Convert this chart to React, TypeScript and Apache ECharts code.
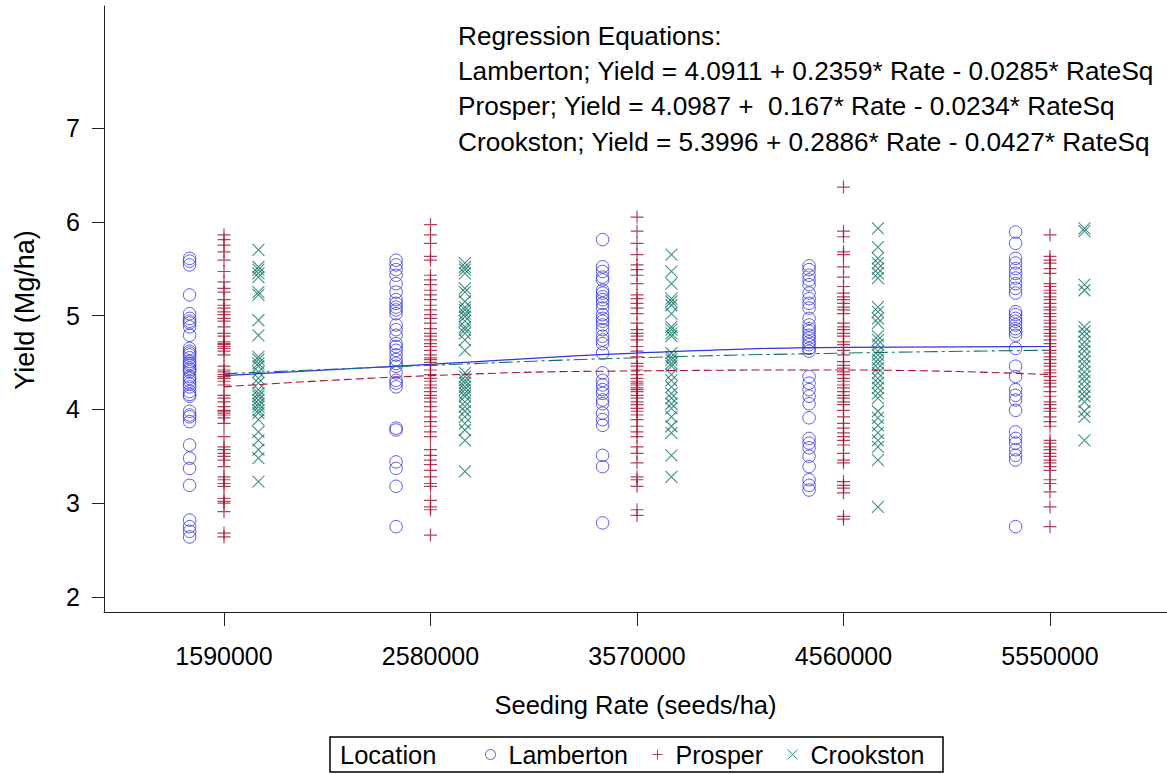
import React, { useEffect, useRef } from "react";
import * as echarts from "echarts";

// Seeding rates (seeds/ha)
const rates = [1590000, 2580000, 3570000, 4560000, 5550000];
const yTicks = [2, 3, 4, 5, 6, 7];

// Plot yields (Mg/ha) by location and seeding rate
const lamberton1590 = [5.61, 5.58, 5.54, 5.22, 5.02, 4.97, 4.94, 4.92, 4.88, 4.79, 4.65, 4.62, 4.60, 4.58, 4.55, 4.51, 4.49, 4.47, 4.44, 4.42, 4.40, 4.35, 4.33, 4.30, 4.27, 4.24, 4.19, 4.16, 4.14, 3.98, 3.94, 3.92, 3.87, 3.62, 3.48, 3.37, 3.19, 2.82, 2.75, 2.70, 2.64];
const lamberton2580 = [5.59, 5.54, 5.49, 5.43, 5.34, 5.25, 5.17, 5.13, 5.09, 5.06, 5.02, 4.90, 4.85, 4.79, 4.70, 4.67, 4.63, 4.58, 4.53, 4.49, 4.46, 4.39, 4.31, 4.28, 4.24, 3.80, 3.78, 3.44, 3.37, 3.18, 2.75];
const lamberton3570 = [5.81, 5.52, 5.47, 5.41, 5.38, 5.27, 5.24, 5.20, 5.17, 5.13, 5.08, 5.01, 4.97, 4.94, 4.90, 4.85, 4.78, 4.74, 4.70, 4.60, 4.39, 4.31, 4.26, 4.21, 4.17, 4.10, 4.06, 3.96, 3.89, 3.83, 3.51, 3.39, 2.79];
const lamberton4560 = [5.53, 5.49, 5.43, 5.38, 5.33, 5.24, 5.18, 5.13, 5.08, 4.97, 4.90, 4.86, 4.83, 4.79, 4.76, 4.72, 4.69, 4.65, 4.62, 4.35, 4.28, 4.21, 4.14, 4.06, 3.91, 3.69, 3.64, 3.59, 3.50, 3.39, 3.25, 3.19, 3.14];
const lamberton5550 = [5.89, 5.77, 5.61, 5.56, 5.50, 5.45, 5.40, 5.34, 5.29, 5.24, 5.04, 5.01, 4.97, 4.94, 4.90, 4.86, 4.83, 4.79, 4.65, 4.46, 4.35, 4.21, 4.15, 4.10, 3.99, 3.76, 3.69, 3.64, 3.57, 3.51, 3.46, 2.75];

const prosper1590 = [5.86, 5.81, 5.75, 5.68, 5.59, 5.47, 5.36, 5.29, 5.25, 5.17, 5.11, 5.08, 5.04, 5.01, 4.97, 4.94, 4.88, 4.81, 4.78, 4.72, 4.70, 4.69, 4.67, 4.65, 4.62, 4.58, 4.46, 4.42, 4.40, 4.37, 4.35, 4.33, 4.30, 4.26, 4.15, 4.12, 4.08, 4.03, 3.99, 3.98, 3.96, 3.94, 3.91, 3.85, 3.71, 3.60, 3.57, 3.53, 3.50, 3.46, 3.39, 3.28, 3.25, 3.21, 3.18, 3.05, 3.02, 3.00, 2.91, 2.68, 2.64];
const prosper2580 = [5.97, 5.86, 5.77, 5.63, 5.59, 5.43, 5.38, 5.33, 5.27, 5.22, 5.17, 5.11, 5.06, 5.01, 4.97, 4.92, 4.86, 4.81, 4.78, 4.74, 4.70, 4.67, 4.63, 4.58, 4.55, 4.53, 4.50, 4.47, 4.42, 4.37, 4.33, 4.30, 4.26, 4.23, 4.19, 4.15, 4.12, 4.08, 4.03, 3.98, 3.92, 3.87, 3.82, 3.76, 3.71, 3.57, 3.51, 3.46, 3.41, 3.35, 3.28, 3.21, 3.18, 3.03, 2.96, 2.93, 2.66];
const prosper3570 = [6.05, 5.90, 5.77, 5.65, 5.54, 5.49, 5.43, 5.34, 5.22, 5.18, 5.13, 5.08, 5.02, 4.92, 4.85, 4.81, 4.78, 4.74, 4.67, 4.62, 4.56, 4.49, 4.46, 4.42, 4.37, 4.33, 4.30, 4.28, 4.26, 4.23, 4.21, 4.19, 4.15, 4.12, 4.08, 4.05, 4.01, 3.98, 3.94, 3.89, 3.82, 3.76, 3.71, 3.60, 3.53, 3.43, 3.28, 3.25, 3.18, 2.93, 2.87];
const prosper4560 = [6.37, 5.90, 5.84, 5.68, 5.65, 5.52, 5.41, 5.31, 5.24, 5.20, 5.17, 5.13, 5.09, 5.06, 5.02, 4.92, 4.88, 4.85, 4.81, 4.78, 4.72, 4.69, 4.63, 4.58, 4.51, 4.47, 4.44, 4.40, 4.37, 4.33, 4.30, 4.26, 4.23, 4.19, 4.15, 4.12, 4.08, 4.05, 3.99, 3.92, 3.85, 3.80, 3.75, 3.71, 3.67, 3.62, 3.53, 3.46, 3.43, 3.23, 3.19, 3.16, 3.11, 2.86, 2.83];
const prosper5550 = [5.86, 5.63, 5.59, 5.56, 5.50, 5.45, 5.34, 5.31, 5.27, 5.24, 5.20, 5.17, 5.13, 5.09, 5.06, 5.02, 4.99, 4.95, 4.92, 4.88, 4.85, 4.81, 4.78, 4.74, 4.70, 4.67, 4.63, 4.60, 4.56, 4.53, 4.49, 4.46, 4.42, 4.39, 4.35, 4.31, 4.28, 4.24, 4.19, 4.14, 4.08, 4.05, 4.01, 3.98, 3.92, 3.87, 3.82, 3.67, 3.64, 3.60, 3.57, 3.53, 3.50, 3.46, 3.43, 3.39, 3.35, 3.25, 3.21, 3.12, 2.96, 2.75];

const crookston1590 = [5.70, 5.52, 5.49, 5.45, 5.41, 5.25, 5.22, 4.95, 4.79, 4.56, 4.53, 4.49, 4.46, 4.40, 4.33, 4.28, 4.21, 4.17, 4.14, 4.10, 4.06, 4.03, 3.99, 3.96, 3.89, 3.76, 3.67, 3.57, 3.48, 3.23];
const crookston2580 = [5.56, 5.52, 5.49, 5.45, 5.29, 5.25, 5.15, 5.09, 5.06, 5.02, 4.99, 4.94, 4.88, 4.85, 4.81, 4.74, 4.63, 4.39, 4.35, 4.31, 4.28, 4.24, 4.21, 4.17, 4.14, 4.08, 4.03, 3.98, 3.92, 3.85, 3.78, 3.67, 3.34];
const crookston3570 = [5.65, 5.47, 5.34, 5.18, 5.15, 5.11, 5.02, 4.88, 4.85, 4.81, 4.78, 4.60, 4.56, 4.53, 4.49, 4.46, 4.37, 4.31, 4.24, 4.17, 4.12, 4.06, 4.01, 3.92, 3.82, 3.75, 3.51, 3.28];
const crookston4560 = [5.93, 5.73, 5.61, 5.56, 5.50, 5.45, 5.40, 5.09, 5.04, 4.97, 4.92, 4.78, 4.74, 4.69, 4.62, 4.58, 4.53, 4.49, 4.44, 4.39, 4.33, 4.28, 4.23, 4.17, 4.12, 3.98, 3.91, 3.83, 3.75, 3.67, 3.60, 3.46, 2.96];
const crookston5550 = [5.93, 5.90, 5.33, 5.27, 4.88, 4.83, 4.78, 4.72, 4.67, 4.62, 4.56, 4.51, 4.46, 4.40, 4.35, 4.30, 4.24, 4.19, 4.14, 4.08, 3.98, 3.92, 3.67];

// Fitted quadratic regression values at each seeding rate
const lambertonFit = [4.36, 4.48, 4.60, 4.66, 4.67];
const prosperFit = [4.24, 4.36, 4.41, 4.42, 4.37];
const crookstonFit = [4.38, 4.47, 4.55, 4.60, 4.63];

const equationLines = [
  "Regression Equations:",
  "Lamberton; Yield = 4.0911 + 0.2359* Rate - 0.0285* RateSq",
  "Prosper; Yield = 4.0987 +  0.167* Rate - 0.0234* RateSq",
  "Crookston; Yield = 5.3996 + 0.2886* Rate - 0.0427* RateSq",
];

const BLUE = "#3434e4";
const RED = "#a3122f";
const TEAL = "#0f7566";
const AXIS = "#222";
const FONT = "'Liberation Sans', Arial, sans-serif";

const PLUS = "path://M0,6L12,6M6,0L6,12";
const CROSS = "path://M0,0L12,12M12,0L0,12";

// side-by-side dodge of the three locations around each rate
const DODGE = 165000;

function points(groups: number[][], offset: number): number[][] {
  const out: number[][] = [];
  groups.forEach((vals, i) => {
    vals.forEach((v) => out.push([rates[i] + offset, v]));
  });
  return out;
}

function fitLine(vals: number[]): number[][] {
  return vals.map((v, i) => [rates[i], v]);
}

export default function App() {
  const ref = useRef<HTMLDivElement>(null);

  useEffect(() => {
    if (!ref.current) return;
    const chart = echarts.init(ref.current, null, { renderer: "svg" });

    const markerStyle = (c: string, w = 1) => ({
      color: "transparent",
      borderColor: c,
      borderWidth: w,
    });

    chart.setOption({
      animation: false,
      backgroundColor: "#ffffff",
      textStyle: { fontFamily: FONT },
      grid: { left: 104, right: 0, top: 6, bottom: 162 },
      xAxis: {
        type: "value",
        min: 1014700,
        max: 6110920,
        name: "Seeding Rate (seeds/ha)",
        nameLocation: "middle",
        nameGap: 80,
        nameTextStyle: { fontSize: 25.5, color: "#000", fontFamily: FONT },
        axisLine: { show: true, onZero: false, lineStyle: { color: AXIS, width: 1 } },
        axisTick: { show: true, length: 14, customValues: rates, lineStyle: { color: AXIS } },
        axisLabel: {
          customValues: rates,
          fontSize: 25,
          color: "#000",
          margin: 31,
          fontFamily: FONT,
          formatter: (v: number) => String(Math.round(v)),
        },
        splitLine: { show: false },
      },
      yAxis: {
        type: "value",
        min: 1.84,
        max: 8.3,
        axisLine: { show: true, onZero: false, lineStyle: { color: AXIS, width: 1 } },
        axisTick: { show: true, length: 12, customValues: yTicks, lineStyle: { color: AXIS } },
        axisLabel: {
          customValues: yTicks,
          fontSize: 25,
          color: "#000",
          margin: 20,
          padding: [0, 4, 0, 0],
          fontFamily: FONT,
        },
        splitLine: { show: false },
      },
      legend: {
        data: [
          { name: "Lamberton", icon: "circle", itemStyle: markerStyle(BLUE) },
          { name: "Prosper", icon: PLUS, itemStyle: markerStyle(RED) },
          { name: "Crookston", icon: CROSS, itemStyle: markerStyle(TEAL) },
        ],
        left: 480,
        top: 737,
        itemWidth: 10,
        itemHeight: 10,
        itemGap: 24,
        selectedMode: false,
        textStyle: { fontSize: 25, color: "#000", fontFamily: FONT, padding: [0, 0, 0, 8] },
      },
      graphic: [
        {
          type: "text",
          x: 25,
          y: 310,
          rotation: Math.PI / 2,
          style: {
            text: "Yield (Mg/ha)",
            fontSize: 27,
            fontFamily: FONT,
            fill: "#000",
            align: "center",
            verticalAlign: "middle",
          },
        },
        {
          type: "text",
          x: 458,
          y: 18,
          style: {
            text: equationLines.join("\n"),
            fontSize: 26.2,
            lineHeight: 35.3,
            fontFamily: FONT,
            fill: "#000",
          },
        },
        {
          type: "rect",
          shape: { x: 330, y: 737, width: 613, height: 35 },
          style: { fill: "none", stroke: "#000", lineWidth: 1.5 },
        },
        {
          type: "text",
          x: 340,
          y: 755,
          style: {
            text: "Location",
            fontSize: 25.5,
            fontFamily: FONT,
            fill: "#000",
            verticalAlign: "middle",
          },
        },
      ],
      series: [
        {
          name: "Lamberton",
          type: "scatter",
          symbol: "circle",
          symbolSize: 12.5,
          itemStyle: markerStyle(BLUE),
          data: points([lamberton1590, lamberton2580, lamberton3570, lamberton4560, lamberton5550], -DODGE),
        },
        {
          name: "Prosper",
          type: "scatter",
          symbol: PLUS,
          symbolSize: 13,
          itemStyle: markerStyle(RED, 1.2),
          data: points([prosper1590, prosper2580, prosper3570, prosper4560, prosper5550], 0),
        },
        {
          name: "Crookston",
          type: "scatter",
          symbol: CROSS,
          symbolSize: 12,
          itemStyle: markerStyle(TEAL, 1.1),
          data: points([crookston1590, crookston2580, crookston3570, crookston4560, crookston5550], DODGE),
        },
        {
          name: "Lamberton fit",
          type: "line",
          smooth: true,
          symbol: "none",
          lineStyle: { color: BLUE, width: 1.2 },
          data: fitLine(lambertonFit),
        },
        {
          name: "Prosper fit",
          type: "line",
          smooth: true,
          symbol: "none",
          lineStyle: { color: RED, width: 1.1, type: [8, 4] },
          data: fitLine(prosperFit),
        },
        {
          name: "Crookston fit",
          type: "line",
          smooth: true,
          symbol: "none",
          lineStyle: { color: TEAL, width: 1.1, type: [14, 4, 3, 4] },
          data: fitLine(crookstonFit),
        },
      ],
    });

    return () => chart.dispose();
  }, []);

  return (
    <div
      ref={ref}
      style={{ position: "fixed", left: 0, top: 0, width: 1167, height: 774, background: "#fff" }}
    />
  );
}
